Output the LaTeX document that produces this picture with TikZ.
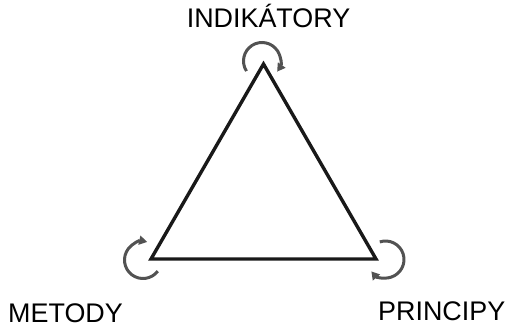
\documentclass[tikz,border=0pt]{standalone}
\usepackage{fontspec}
\setmainfont{Liberation Sans}
\usetikzlibrary{arrows.meta,positioning}

\begin{document}
\begin{tikzpicture}[x=1bp,y=1bp,>={Triangle[length=8bp,width=9bp]},
 lbl/.style={inner sep=0pt,font=\fontsize{27}{31}\selectfont},
 edge/.style={draw=black!90,line width=3.4bp},
 loop/.style={draw=black!68,line width=3bp,->}]
\useasboundingbox (0,0) rectangle (507,327);
% corners of the triangle
\coordinate (ind) at (263.5,263);
\coordinate (met) at (151,68);
\coordinate (pri) at (376,68);
\draw[edge] (ind)--(met)--(pri)--cycle;
% turning arrows round the corners
\draw[loop] ([shift={(213:18.5)}]262,266) arc[start angle=213,end angle=-35,radius=18.5];
\draw[loop] ([shift={(-37:18.5)}]143,67) arc[start angle=-37,end angle=-283,radius=18.5];
\draw[loop] ([shift={(108:18.5)}]385.5,67.5) arc[start angle=108,end angle=-140,radius=18.5];
% labels
\node[lbl,anchor=base] (tind) at (268.5,300) {INDIKÁTORY};
\node[lbl,anchor=base west] (tmet) at (8,5) {METODY};
\node[lbl,anchor=base west] (tpri) at (378,7) {PRINCIPY};
\end{tikzpicture}
\end{document}
